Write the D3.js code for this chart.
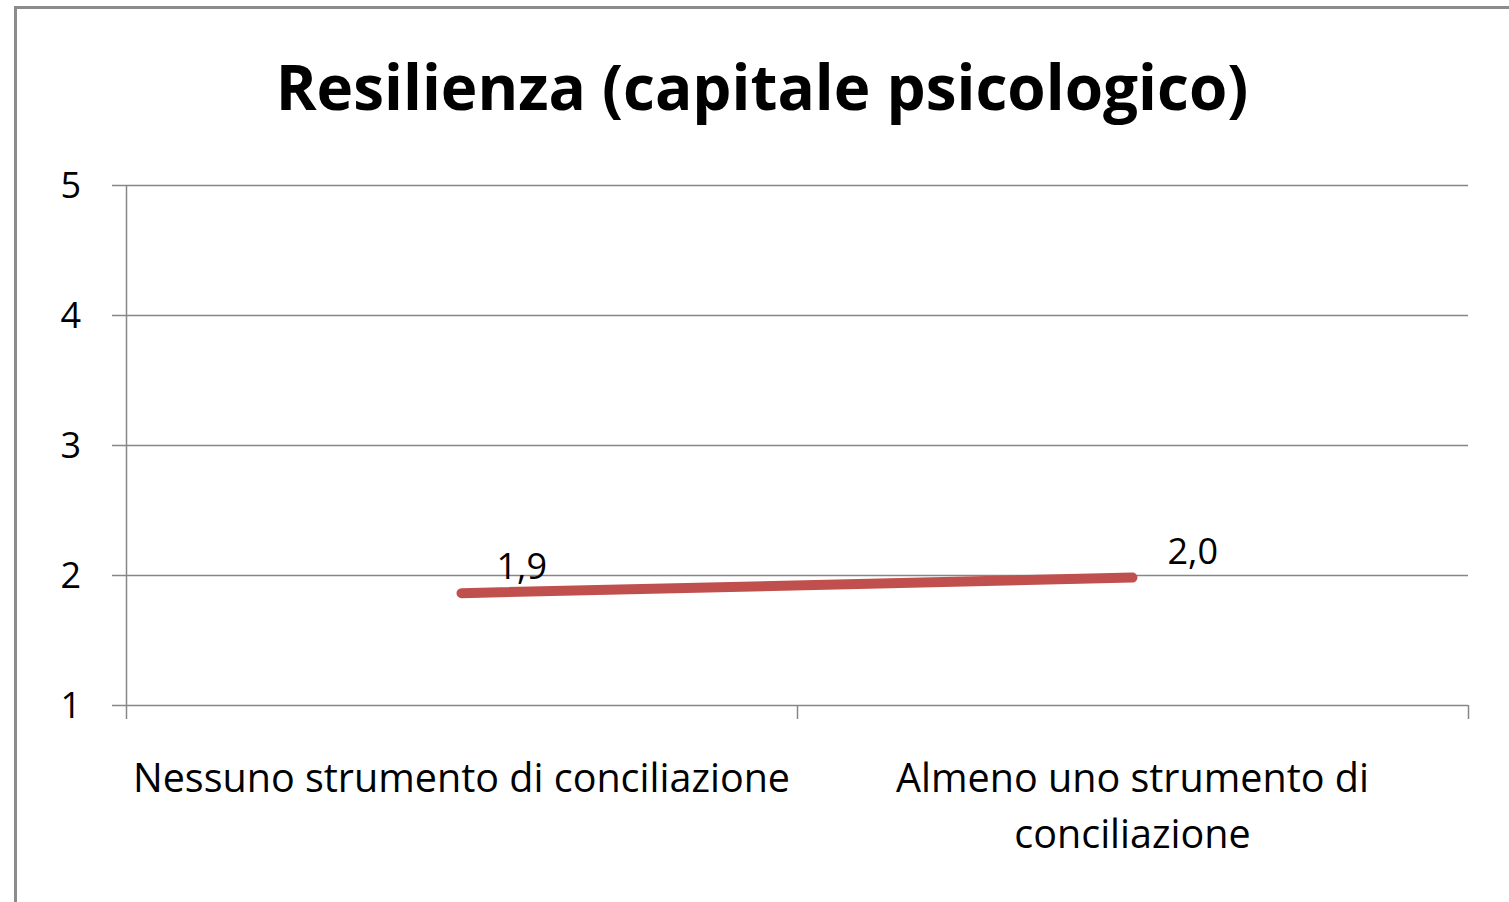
<!DOCTYPE html>
<html lang="it">
    <head>
        <meta charset="utf-8">
        <title>Resilienza</title>
        <script type="text/javascript" src="https://cdn.jsdelivr.net/npm/d3@7"></script>
        <style type="text/css">
            body { margin: 0; background: #fff; }
            svg text { font-family: "Open Sans", Lato, sans-serif; fill: #000; }
        </style>
    </head>
    <body>
        <script type="text/javascript">
        // Data
        var title = "Resilienza (capitale psicologico)";
        var categories = ["Nessuno strumento di conciliazione", "Almeno uno strumento di conciliazione"];
        var categoryLines = [["Nessuno strumento di conciliazione"], ["Almeno uno strumento di", "conciliazione"]];
        var values = [1.86, 1.98];
        var yTicks = [1, 2, 3, 4, 5];

        var svgWidth = 1509;
        var svgHeight = 902;

        var svg = d3.select("body")
            .append("svg")
            .attr("width", svgWidth)
            .attr("height", svgHeight);

        // chart frame
        svg.append("rect")
            .attr("x", 15.5)
            .attr("y", 7.5)
            .attr("width", 1520)
            .attr("height", 920)
            .attr("fill", "none")
            .attr("stroke", "#8c8c8c")
            .attr("stroke-width", 3);

        svg.append("text")
            .attr("x", 762)
            .attr("y", 110)
            .attr("text-anchor", "middle")
            .attr("font-size", "62px")
            .attr("font-weight", "bold")
            .text(title);

        var x = d3.scaleBand()
            .domain(categories)
            .range([126, 1468]);

        var y = d3.scaleLinear()
            .domain([1, 5])
            .range([705, 185]);

        // gridlines
        svg.selectAll("line.grid")
            .data(yTicks)
            .enter()
            .append("line")
            .attr("class", "grid")
            .attr("x1", 112)
            .attr("x2", 1468)
            .attr("y1", function(d) { return Math.round(y(d)) + 0.5; })
            .attr("y2", function(d) { return Math.round(y(d)) + 0.5; })
            .attr("stroke", "#868686")
            .attr("stroke-width", 1.5);

        // y axis line
        svg.append("line")
            .attr("x1", 126.5).attr("x2", 126.5)
            .attr("y1", y(5)).attr("y2", y(1))
            .attr("stroke", "#868686")
            .attr("stroke-width", 1.5);

        svg.selectAll("text.ylab")
            .data(yTicks)
            .enter()
            .append("text")
            .attr("class", "ylab")
            .attr("x", 81)
            .attr("y", function(d) { return y(d) + 13; })
            .attr("text-anchor", "end")
            .attr("font-size", "36px")
            .text(function(d) { return d; });

        // x tick marks at band edges
        var xEdges = categories.map(function(c) { return x(c); }).concat([x.range()[1]]);
        svg.selectAll("line.xtick")
            .data(xEdges)
            .enter()
            .append("line")
            .attr("class", "xtick")
            .attr("x1", function(d) { return Math.round(d) + 0.5; })
            .attr("x2", function(d) { return Math.round(d) + 0.5; })
            .attr("y1", y(1))
            .attr("y2", y(1) + 14)
            .attr("stroke", "#868686")
            .attr("stroke-width", 1.5);

        // category labels
        svg.selectAll("text.xlab")
            .data(categories)
            .enter()
            .append("text")
            .attr("class", "xlab")
            .attr("text-anchor", "middle")
            .attr("font-size", "39.5px")
            .each(function(d, i) {
                var t = d3.select(this);
                categoryLines[i].forEach(function(line, j) {
                    t.append("tspan")
                        .attr("x", x(d) + x.bandwidth() / 2)
                        .attr("y", 792 + j * 56)
                        .text(line);
                });
            });

        // the line
        var line = d3.line()
            .x(function(d, i) { return x(categories[i]) + x.bandwidth() / 2; })
            .y(function(d) { return y(d); });

        svg.append("path")
            .datum(values)
            .attr("d", line)
            .attr("fill", "none")
            .attr("stroke", "#c0504d")
            .attr("stroke-width", 10)
            .attr("stroke-linecap", "round");

        // data labels
        svg.selectAll("text.vlab")
            .data(values)
            .enter()
            .append("text")
            .attr("class", "vlab")
            .attr("x", function(d, i) { return x(categories[i]) + x.bandwidth() / 2 + 35; })
            .attr("y", function(d) { return y(d) - 14; })
            .attr("font-size", "36px")
            .text(function(d) { return d3.format(".1f")(d).replace(".", ","); });
        </script>
    </body>
</html>
